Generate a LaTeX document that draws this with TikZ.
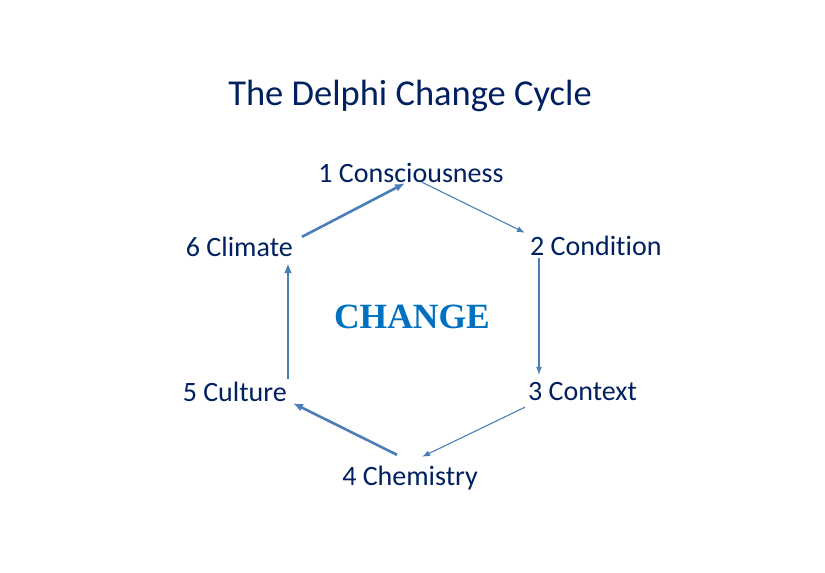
\documentclass[tikz,border=0pt]{standalone}
\usepackage{fontspec}
\setmainfont{Carlito}[Ligatures={NoCommon}]
\newfontfamily\changefont{Liberation Serif}
\usetikzlibrary{arrows.meta}
\definecolor{navy}{RGB}{0,32,96}
\definecolor{arrowblue}{RGB}{74,126,187}
\definecolor{changeblue}{RGB}{0,112,192}
\tikzset{
  stage/.style={text=navy,font=\fontsize{28}{32}\selectfont,inner sep=0pt,
    text height=18pt,text depth=6pt,anchor=base},
  thinarrow/.style={-{Latex[length=8pt,width=6pt]},line width=1.1pt,arrowblue},
  thickarrow/.style={-{Latex[length=10pt,width=8pt]},line width=2.6pt,arrowblue}
}
\begin{document}
\begin{tikzpicture}[x=1pt,y=-1pt]
\useasboundingbox (0,0) rectangle (825,573);
\node[at={(410,105)},anchor=base,text=navy,font=\fontsize{36.5}{42}\selectfont] (title) {The Delphi Change Cycle};
\node[stage,at={(411,182)}] (n1) {1 Consciousness};
\node[stage,at={(530,255)},anchor=base west] (n2) {2 Condition};
\node[stage,at={(528,400)},anchor=base west] (n3) {3 Context};
\node[stage,at={(410,485)}] (n4) {4 Chemistry};
\node[stage,at={(287,401)},anchor=base east] (n5) {5 Culture};
\node[stage,at={(293,256)},anchor=base east] (n6) {6 Climate};
\node[at={(412,328)},anchor=base,text=changeblue,font=\changefont\bfseries\fontsize{35.5}{40}\selectfont] (change) {CHANGE};
\draw[thickarrow] ([xshift=9pt,yshift=1pt]n6.north east) -- ([xshift=-6pt,yshift=5pt]n1.south);
\draw[thinarrow] ([xshift=11pt,yshift=6pt]n1.south) -- ([xshift=-5pt,yshift=4pt]n2.north west);
\draw[thinarrow] ([xshift=9pt,yshift=3pt]n2.south west) -- ([xshift=11pt,yshift=7pt]n3.north west);
\draw[thinarrow] ([xshift=-3pt,yshift=-1pt]n3.south west) -- ([xshift=12pt,yshift=10pt]n4.north);
\draw[thickarrow] ([xshift=-13pt,yshift=12pt]n4.north) -- ([xshift=6pt,yshift=4pt]n5.south east);
\draw[thickarrow] ([xshift=1pt,yshift=4pt]n5.north east) -- ([xshift=-5pt,yshift=-1pt]n6.south east);
\end{tikzpicture}
\end{document}
